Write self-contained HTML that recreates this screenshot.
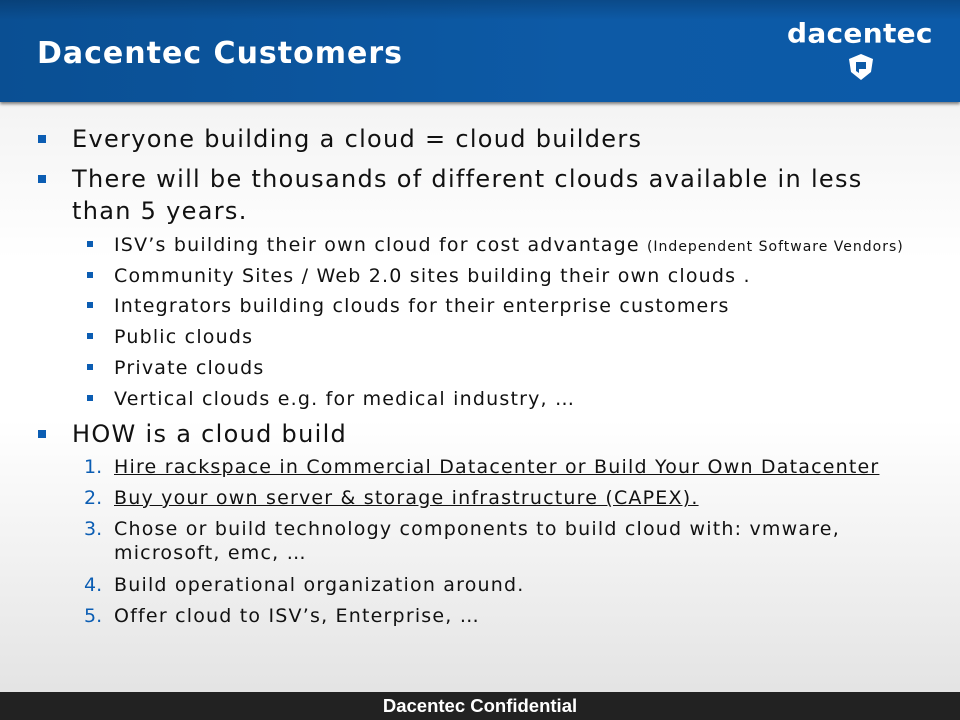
<!DOCTYPE html>
<html><head><meta charset="utf-8"><style>
html,body{margin:0;padding:0}
body{width:960px;height:720px;position:relative;overflow:hidden;font-family:"DejaVu Sans","Liberation Sans",sans-serif;
background:linear-gradient(#ececec 0px,#ffffff 260px,#ffffff 420px,#e4e4e4 690px);}
.hdr{position:absolute;left:0;top:0;width:960px;height:102px;background:linear-gradient(90deg,#0a4f93 0%,#0d5aa6 60%,#0c5aa8 100%);box-shadow:0 2px 3px rgba(0,0,0,.5)}
.hdr:after{content:"";position:absolute;left:0;top:0;right:0;height:20px;background:linear-gradient(rgba(0,0,0,.18),rgba(0,0,0,0))}
.title{position:absolute;left:37px;top:36px;color:#fff;font:bold 30px "DejaVu Sans",sans-serif;letter-spacing:1px}
.logo{position:absolute;left:787px;top:17px;color:#fff;font:bold 28px "DejaVu Sans",monospace;letter-spacing:0.3px;transform:scaleY(0.95)}
.t{position:absolute;white-space:nowrap;color:#111}
.l1{font-size:24px;left:72px;letter-spacing:1.3px}
.l2{font-size:19px;left:114px;letter-spacing:1.2px}
.b1{position:absolute;left:38px;width:8px;height:8px;background:#0b5db3}
.b2{position:absolute;left:87px;width:6px;height:6px;background:#0b5db3}
.n{position:absolute;left:84px;font-size:19px;color:#0b5db3}
.u{text-decoration:underline}
.foot{position:absolute;left:0;top:692px;width:960px;height:28px;background:#222;color:#fff;font:bold 18.5px "Liberation Sans",sans-serif;text-align:center;line-height:28px}
</style></head><body>
<div class="hdr"></div>
<div class="title">Dacentec Customers</div>
<div class="logo">dacentec</div>
<svg style="position:absolute;left:846px;top:52px" width="30" height="30" viewBox="0 0 30 30"><path d="M15 2 L27 7 L25 20 L15 28 L5 20 L3 7 Z" fill="#fff"/><path d="M10 10 L20 10 L20 17 L13 17 L13 21 L10 19 Z" fill="#0d5aa6"/></svg>

<div class="b1" style="top:135px"></div><div class="t l1" style="top:125px">Everyone building a cloud = cloud builders</div>
<div class="b1" style="top:175px"></div><div class="t l1" style="top:165px">There will be thousands of different clouds available in less</div>
<div class="t l1" style="top:197px">than 5 years.</div>

<div class="b2" style="top:241px"></div><div class="t l2" style="top:234px">ISV’s building their own cloud for cost advantage <span style="font-size:14px;letter-spacing:1px">(Independent Software Vendors)</span></div>
<div class="b2" style="top:272px"></div><div class="t l2" style="top:265px">Community Sites / Web 2.0 sites building their own clouds .</div>
<div class="b2" style="top:302px"></div><div class="t l2" style="top:295px">Integrators building clouds for their enterprise customers</div>
<div class="b2" style="top:333px"></div><div class="t l2" style="top:326px">Public clouds</div>
<div class="b2" style="top:364px"></div><div class="t l2" style="top:357px">Private clouds</div>
<div class="b2" style="top:395px"></div><div class="t l2" style="top:388px">Vertical clouds e.g. for medical industry, …</div>

<div class="b1" style="top:430px"></div><div class="t l1" style="top:420px">HOW is a cloud build</div>
<div class="n" style="top:456px">1.</div><div class="t l2 u" style="top:456px">Hire rackspace in Commercial Datacenter or Build Your Own Datacenter</div>
<div class="n" style="top:487px">2.</div><div class="t l2 u" style="top:487px">Buy your own server &amp; storage infrastructure (CAPEX).</div>
<div class="n" style="top:518px">3.</div><div class="t l2" style="top:518px">Chose or build technology components to build cloud with: vmware,</div>
<div class="t l2" style="top:542px">microsoft, emc, …</div>
<div class="n" style="top:574px">4.</div><div class="t l2" style="top:574px">Build operational organization around.</div>
<div class="n" style="top:605px">5.</div><div class="t l2" style="top:605px">Offer cloud to ISV’s, Enterprise, …</div>

<div class="foot">Dacentec Confidential</div>
</body></html>
